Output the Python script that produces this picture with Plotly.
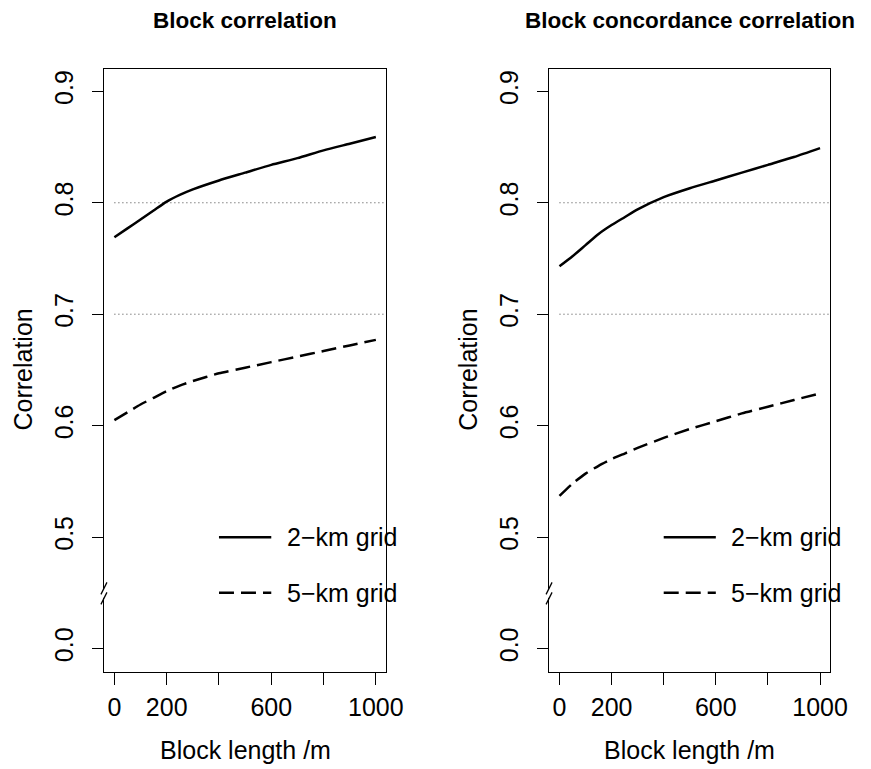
import plotly.graph_objects as go

# ---------------- data ----------------
block_length = [0, 50, 100, 150, 200, 250, 300, 400, 500, 600, 700, 800, 900, 1000]

corr_2km = [0.769, 0.777, 0.785, 0.793, 0.801, 0.807, 0.812, 0.820, 0.827, 0.834, 0.840, 0.847, 0.853, 0.859]
corr_5km = [0.605, 0.612, 0.619, 0.625, 0.631, 0.636, 0.640, 0.647, 0.652, 0.657, 0.662, 0.667, 0.672, 0.677]

conc_2km = [0.743, 0.752, 0.762, 0.772, 0.780, 0.787, 0.794, 0.805, 0.813, 0.820, 0.827, 0.834, 0.841, 0.849]
conc_5km = [0.537, 0.548, 0.557, 0.564, 0.570, 0.575, 0.580, 0.589, 0.597, 0.604, 0.611, 0.617, 0.623, 0.629]

ref_levels = [0.7, 0.8]
panel_titles = ["Block correlation", "Block concordance correlation"]
series_names = ["2\u2212km grid", "5\u2212km grid"]

x_tickvals = [0, 200, 400, 600, 800, 1000]
x_ticktext = ["0", "200", "", "600", "", "1000"]
# broken axis: the value 0.0 is drawn at position 0.4
y_tickvals = [0.4, 0.5, 0.6, 0.7, 0.8, 0.9]
y_ticktext = ["0.0", "0.5", "0.6", "0.7", "0.8", "0.9"]
break_pos = 0.45
legend_y = [0.5, 0.45]

# ---------------- layout geometry ----------------
W, H = 871, 769
FONT = "Liberation Sans, Arial, Helvetica, sans-serif"
x_domains = [[106 / W, 394 / W], [560 / W, 847 / W]]
y_domain = [1 - 672 / H, 1 - 69 / H]
x_range = [-40, 1040]
y_range = [0.379, 0.92]

fig = go.Figure()

panels = [(corr_2km, corr_5km), (conc_2km, conc_5km)]
for i, (s2, s5) in enumerate(panels):
    xa = "x" if i == 0 else "x2"
    ya = "y" if i == 0 else "y2"
    # dotted reference lines
    for lv in ref_levels:
        fig.add_trace(go.Scatter(
            x=[0, x_range[1]], y=[lv, lv], mode="lines",
            line=dict(color="#444444", width=1, dash="1px,3px"),
            xaxis=xa, yaxis=ya, showlegend=False, hoverinfo="skip"))
    fig.add_trace(go.Scatter(
        x=block_length, y=s2, mode="lines", name=series_names[0],
        line=dict(color="black", width=2.5, shape="spline", smoothing=0.6),
        xaxis=xa, yaxis=ya, showlegend=False))
    fig.add_trace(go.Scatter(
        x=block_length, y=s5, mode="lines", name=series_names[1],
        line=dict(color="black", width=2.5, dash="15px,7px", shape="spline", smoothing=0.6),
        xaxis=xa, yaxis=ya, showlegend=False))

axis_font = dict(family=FONT, size=25, color="black")
common_x = dict(range=x_range, tickmode="array", tickvals=x_tickvals, ticktext=x_ticktext,
                showgrid=False, zeroline=False, showline=True, linecolor="black", linewidth=1,
                mirror=True, ticks="outside", ticklen=12, tickcolor="black", tickwidth=1,
                tickfont=axis_font, ticklabelstandoff=1)
common_y = dict(range=y_range, tickmode="array", tickvals=y_tickvals, ticktext=y_ticktext,
                showgrid=False, zeroline=False, showline=True, linecolor="black", linewidth=1,
                mirror=True, ticks="outside", ticklen=11, tickcolor="black", tickwidth=1,
                tickfont=axis_font, tickangle=-90, domain=y_domain, ticklabelstandoff=9)

fig.update_layout(
    width=W, height=H, autosize=False,
    margin=dict(l=0, r=0, t=0, b=0),
    paper_bgcolor="white", plot_bgcolor="white",
    xaxis=dict(domain=x_domains[0], anchor="y", **common_x),
    yaxis=dict(anchor="x", **common_y),
    xaxis2=dict(domain=x_domains[1], anchor="y2", **common_x),
    yaxis2=dict(anchor="x2", **common_y),
    showlegend=False,
)

shapes = []
annotations = []
for i in range(2):
    xr = "x" if i == 0 else "x2"
    yr = "y" if i == 0 else "y2"
    # axis break: white gap + two slashes
    shapes.append(dict(type="rect", xref=xr + " domain", yref=yr, xsizemode="pixel", ysizemode="pixel",
                       xanchor=0, yanchor=break_pos, x0=-2.5, x1=2.5, y0=-5, y1=4,
                       fillcolor="white", line=dict(width=0), layer="above"))
    for off in (4.5, -5.5):
        shapes.append(dict(type="line", xref=xr + " domain", yref=yr, xsizemode="pixel", ysizemode="pixel",
                           xanchor=0, yanchor=break_pos, x0=-3, x1=3, y0=off - 6, y1=off + 6,
                           line=dict(color="black", width=1.3), layer="above"))
    # legend keys
    shapes.append(dict(type="line", xref=xr, yref=yr, x0=400, x1=600, y0=legend_y[0], y1=legend_y[0],
                       line=dict(color="black", width=2.5)))
    shapes.append(dict(type="line", xref=xr, yref=yr, x0=400, x1=600, y0=legend_y[1], y1=legend_y[1],
                       line=dict(color="black", width=2.5, dash="15px,7px")))
    for name, ly in zip(series_names, legend_y):
        annotations.append(dict(xref=xr, yref=yr, x=652, y=ly, text=name, showarrow=False,
                                xanchor="left", yanchor="middle", font=axis_font))
    # titles and axis titles
    cx = (x_domains[i][0] + x_domains[i][1]) / 2
    annotations.append(dict(xref="paper", yref="paper", x=cx, y=1 - 21 / H, text="<b>" + panel_titles[i] + "</b>",
                            showarrow=False, xanchor="center", yanchor="middle",
                            font=dict(family=FONT, size=22.5, color="black")))
    annotations.append(dict(xref="paper", yref="paper", x=cx, y=1 - 750 / H, text="Block length /m",
                            showarrow=False, xanchor="center", yanchor="middle", font=axis_font))
    ylab_x = (23 if i == 0 else 477) / W
    annotations.append(dict(xref="paper", yref="paper", x=ylab_x, y=1 - 370 / H, text="Correlation",
                            showarrow=False, xanchor="center", yanchor="middle", textangle=-90,
                            font=axis_font))

fig.update_layout(shapes=shapes, annotations=annotations)
fig.write_html("out.html")
